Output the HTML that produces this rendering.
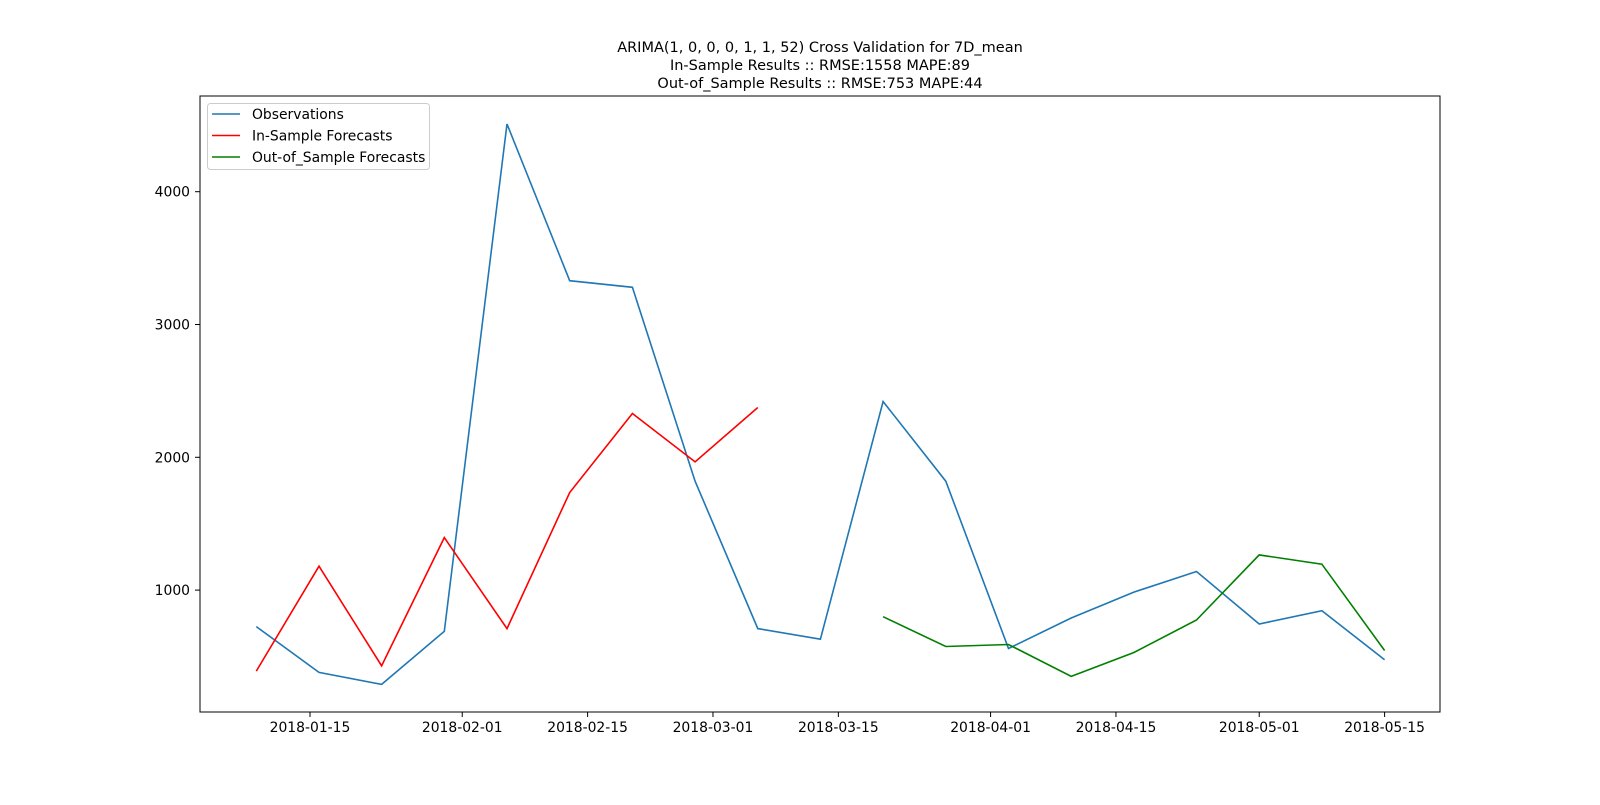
<!DOCTYPE html>
<html><head><meta charset="utf-8"><style>
body{margin:0;background:#fff;font-family:"Liberation Sans","DejaVu Sans",sans-serif}
svg text{font-family:"DejaVu Sans","Liberation Sans",sans-serif}
</style></head><body>
<svg id="chart" width="1600" height="800" viewBox="0 0 1600 800">
<rect width="1600" height="800" fill="#fff"/>
<g font-size="14.5" text-anchor="middle" fill="#000">
<text x="820" y="52">ARIMA(1, 0, 0, 0, 1, 1, 52) Cross Validation for 7D_mean</text>
<text x="820" y="70">In-Sample Results :: RMSE:1558 MAPE:89</text>
<text x="820" y="88">Out-of_Sample Results :: RMSE:753 MAPE:44</text>
</g>
<g id="xaxis"></g>
<g id="yaxis"></g>
<g id="series"></g>
<rect x="200" y="96" width="1240" height="616" fill="none" stroke="#000" stroke-width="1"/>
<g>
<rect x="207.5" y="103.5" width="222" height="66" fill="#fff" fill-opacity="0.8" stroke="#ccc" rx="3"/>
<g><line x1="212" y1="114" x2="240" y2="114" stroke="#1f77b4" stroke-width="1.5"/><text x="252" y="119" font-size="13.9">Observations</text></g>
<g><line x1="212" y1="135.5" x2="240" y2="135.5" stroke="#ff0000" stroke-width="1.5"/><text x="252" y="140.5" font-size="13.9">In-Sample Forecasts</text></g>
<g><line x1="212" y1="157" x2="240" y2="157" stroke="#008000" stroke-width="1.5"/><text x="252" y="162" font-size="13.9">Out-of_Sample Forecasts</text></g>
</g>
</svg>
<script>
const obsDates=["2018-01-09","2018-01-16","2018-01-23","2018-01-30","2018-02-06","2018-02-13","2018-02-20","2018-02-27","2018-03-06","2018-03-13","2018-03-20","2018-03-27","2018-04-03","2018-04-10","2018-04-17","2018-04-24","2018-05-01","2018-05-08","2018-05-15"];
const obsValues=[725,380,290,690,4510,3330,3280,1820,710,630,2420,1820,560,790,985,1140,745,845,475];
const inDates=["2018-01-09","2018-01-16","2018-01-23","2018-01-30","2018-02-06","2018-02-13","2018-02-20","2018-02-27","2018-03-06"];
const inValues=[390,1180,430,1395,710,1735,2330,1965,2375];
const outDates=["2018-03-20","2018-03-27","2018-04-03","2018-04-10","2018-04-17","2018-04-24","2018-05-01","2018-05-08","2018-05-15"];
const outValues=[800,575,590,350,530,775,1265,1195,545];
const xTicks=["2018-01-15","2018-02-01","2018-02-15","2018-03-01","2018-03-15","2018-04-01","2018-04-15","2018-05-01","2018-05-15"];
const yTicks=[1000,2000,3000,4000];
const NS="http://www.w3.org/2000/svg";
const day0=Date.UTC(2018,0,15);
function xs(d){const t=Date.parse(d+"T00:00:00Z");return 310+(t-day0)/86400000*8.955;}
function ys(v){return 191.7+(4000-v)*0.1328;}
const xa=document.getElementById('xaxis'),ya=document.getElementById('yaxis'),sg=document.getElementById('series');
xTicks.forEach(d=>{const x=xs(d);
const l=document.createElementNS(NS,'line');l.setAttribute('x1',x);l.setAttribute('x2',x);l.setAttribute('y1',712);l.setAttribute('y2',717);l.setAttribute('stroke','#000');


xa.appendChild(l);
const t=document.createElementNS(NS,'text');t.setAttribute('x',x);t.setAttribute('y',732);t.setAttribute('font-size','13.9');t.setAttribute('text-anchor','middle');t.textContent=d;


xa.appendChild(t);});
yTicks.forEach(v=>{const y=ys(v);
const l=document.createElementNS(NS,'line');l.setAttribute('x1',195);l.setAttribute('x2',200);l.setAttribute('y1',y);l.setAttribute('y2',y);l.setAttribute('stroke','#000');


ya.appendChild(l);
const t=document.createElementNS(NS,'text');t.setAttribute('x',190);t.setAttribute('y',y+5);t.setAttribute('font-size','13.9');t.setAttribute('text-anchor','end');t.textContent=v;


ya.appendChild(t);});
function line(dates,vals,color,name){const p=document.createElementNS(NS,'polyline');
p.setAttribute('points',dates.map((d,i)=>xs(d).toFixed(1)+','+ys(vals[i]).toFixed(1)).join(' '));
p.setAttribute('fill','none');p.setAttribute('stroke',color);p.setAttribute('stroke-width','1.6');


sg.appendChild(p);}
line(obsDates,obsValues,'#1f77b4','observations-line');
line(inDates,inValues,'#ff0000','in-sample-forecast-line');
line(outDates,outValues,'#008000','out-of-sample-forecast-line');
</script>
</body></html>
